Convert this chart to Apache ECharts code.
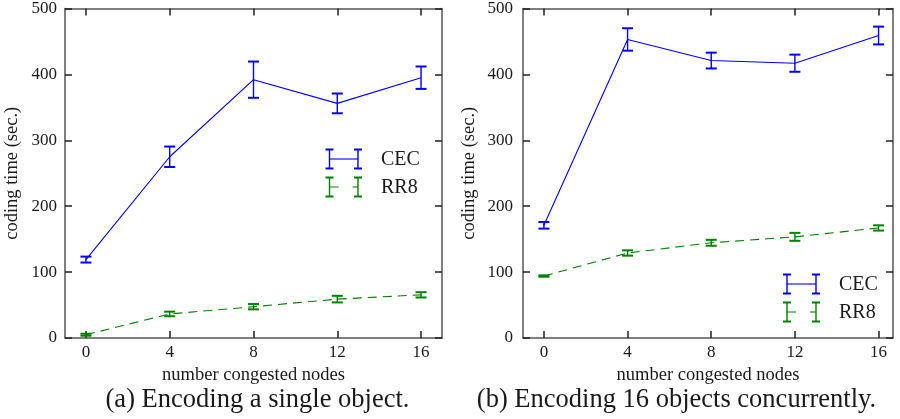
<!DOCTYPE html>
<html>
<head>
<meta charset="utf-8">
<script src="https://cdn.jsdelivr.net/npm/echarts@6/dist/echarts.min.js"></script>
<style>
  html, body { margin: 0; padding: 0; background: #fff; }
  #chart { width: 900px; height: 419px; }
</style>
</head>
<body>
<div id="chart"></div>
<script>
// Number of congested nodes (x positions) and their tick labels
const nodes = [0, 4, 8, 12, 16];
const xTickLabels = ['0', '4', '8', '12', '16'];

// (a) Encoding a single object: mean coding time and error half-width (sec.)
const cecSingle = [119, 275, 392, 356, 395];
const cecSingleErr = [4.5, 15.5, 27.5, 15, 17];
const rr8Single = [5, 36.5, 47.5, 59, 65.5];
const rr8SingleErr = [1.5, 3.5, 4, 5, 4];

// (b) Encoding 16 objects concurrently
const cecMulti = [171, 453, 421, 417, 459];
const cecMultiErr = [5, 17, 12, 13, 13.5];
const rr8Multi = [94, 129, 144.5, 153.5, 167];
const rr8MultiErr = [1, 4, 4.5, 6, 4];

const seriesNames = ['CEC', 'RR8'];
const captions = ['(a) Encoding a single object.', '(b) Encoding 16 objects concurrently.'];
const xTitle = 'number congested nodes';
const yTitle = 'coding time (sec.)';

const BLUE = '#0000ff';
const GREEN = '#008000';
const FONT = 'Liberation Serif';
const TEXT = '#1a1a1a';

function points(vals) { return nodes.map((x, i) => [x, vals[i]]); }
function ranges(vals, errs) { return nodes.map((x, i) => [x, vals[i] - errs[i], vals[i] + errs[i]]); }

function errorBars(color) {
  return function (params, api) {
    const x = api.value(0);
    const lo = api.coord([x, api.value(1)]);
    const hi = api.coord([x, api.value(2)]);
    const w = 5.5;
    const st = { stroke: color, lineWidth: 1.4 };
    const cap = { stroke: color, lineWidth: 2 };
    return {
      type: 'group',
      children: [
        { type: 'line', shape: { x1: lo[0], y1: lo[1], x2: hi[0], y2: hi[1] }, style: st },
        { type: 'line', shape: { x1: lo[0] - w, y1: lo[1], x2: lo[0] + w, y2: lo[1] }, style: cap },
        { type: 'line', shape: { x1: hi[0] - w, y1: hi[1], x2: hi[0] + w, y2: hi[1] }, style: cap }
      ]
    };
  };
}

const grids = [
  { left: 65, top: 8, width: 377, height: 330 },
  { left: 523, top: 8, width: 370, height: 330 }
];
const xMax = [17, 16.69];

const axisLine = { show: true, onZero: false, lineStyle: { color: '#555', width: 1.5 } };
const tickStyle = { color: '#222', width: 1.5 };

const xAxes = [];
const yAxes = [];
[0, 1].forEach(g => {
  // bottom axis with labels
  xAxes.push({
    type: 'value', gridIndex: g, min: -1, max: xMax[g], position: 'bottom',
    axisLine: axisLine,
    axisTick: { show: true, inside: true, length: 7, lineStyle: tickStyle, customValues: nodes },
    axisLabel: {
      show: true, margin: 6, fontFamily: FONT, fontSize: 17, color: TEXT,
      customValues: nodes, formatter: v => xTickLabels[nodes.indexOf(v)]
    },
    splitLine: { show: false },
    name: xTitle, nameLocation: 'middle', nameGap: 24,
    nameTextStyle: { fontFamily: FONT, fontSize: 18.5, color: TEXT }
  });
  // mirrored top axis
  xAxes.push({
    type: 'value', gridIndex: g, min: -1, max: xMax[g], position: 'top',
    axisLine: axisLine,
    axisTick: { show: true, inside: true, length: 7, lineStyle: tickStyle, customValues: nodes },
    axisLabel: { show: false },
    splitLine: { show: false }
  });
  yAxes.push({
    type: 'value', gridIndex: g, min: 0, max: 500, interval: 100, position: 'left',
    axisLine: axisLine,
    axisTick: { show: true, inside: true, length: 7, lineStyle: tickStyle },
    axisLabel: { show: true, margin: g === 0 ? 8 : 10, fontFamily: FONT, fontSize: 17, color: TEXT },
    splitLine: { show: false },
    name: yTitle, nameLocation: 'middle', nameGap: g === 0 ? 43 : 44, nameRotate: 90,
    nameTextStyle: { fontFamily: FONT, fontSize: 18.5, color: TEXT }
  });
  // mirrored right axis
  yAxes.push({
    type: 'value', gridIndex: g, min: 0, max: 500, interval: 100, position: 'right',
    axisLine: axisLine,
    axisTick: { show: true, inside: true, length: 7, lineStyle: tickStyle },
    axisLabel: { show: false },
    splitLine: { show: false }
  });
});

function lineSeries(name, g, data, color, dashed) {
  return {
    name: name, type: 'line', xAxisIndex: g * 2, yAxisIndex: g * 2,
    data: points(data), symbol: 'none', z: 2,
    lineStyle: { color: color, width: 1.1, type: dashed ? [9, 6] : 'solid' }
  };
}
function errSeries(name, g, data, errs, color) {
  return {
    name: name, type: 'custom', xAxisIndex: g * 2, yAxisIndex: g * 2,
    data: ranges(data, errs), renderItem: errorBars(color), z: 3,
    encode: { x: 0, y: [1, 2] }
  };
}

const series = [
  lineSeries('CEC', 0, cecSingle, BLUE, false),
  errSeries('CEC', 0, cecSingle, cecSingleErr, BLUE),
  lineSeries('RR8', 0, rr8Single, GREEN, true),
  errSeries('RR8', 0, rr8Single, rr8SingleErr, GREEN),
  lineSeries('CEC', 1, cecMulti, BLUE, false),
  errSeries('CEC', 1, cecMulti, cecMultiErr, BLUE),
  lineSeries('RR8', 1, rr8Multi, GREEN, true),
  errSeries('RR8', 1, rr8Multi, rr8MultiErr, GREEN)
];

// Legend keys: an error-bar glyph followed by the series name
function legendKey(x1, x2, y, color, dashed, label) {
  const h = 9.5, s = 4;
  const beam = x => [
    { type: 'line', shape: { x1: x, y1: y - h, x2: x, y2: y + h }, style: { stroke: color, lineWidth: 1.4 } },
    { type: 'line', shape: { x1: x - s, y1: y - h, x2: x + s, y2: y - h }, style: { stroke: color, lineWidth: 2 } },
    { type: 'line', shape: { x1: x - s, y1: y + h, x2: x + s, y2: y + h }, style: { stroke: color, lineWidth: 2 } }
  ];
  return [
    { type: 'line', shape: { x1: x1, y1: y, x2: x2, y2: y },
      style: { stroke: color, lineWidth: 1.1, lineDash: dashed ? [9, 14] : null } },
    ...beam(x1), ...beam(x2),
    { type: 'text', x: x2 + 23, y: y + 1, style: { text: label, fontFamily: FONT, fontSize: 20, fill: TEXT, verticalAlign: 'middle', align: 'left' } }
  ];
}

const graphic = [
  ...legendKey(329.5, 358, 159, BLUE, false, seriesNames[0]),
  ...legendKey(329.5, 358, 187, GREEN, true, seriesNames[1]),
  ...legendKey(787, 816, 284, BLUE, false, seriesNames[0]),
  ...legendKey(787, 816, 312, GREEN, true, seriesNames[1]),
  { type: 'text', x: 257.5, y: 400, style: { text: captions[0], fontFamily: FONT, fontSize: 26.5, fill: TEXT, align: 'center', verticalAlign: 'middle' } },
  { type: 'text', x: 676.5, y: 400, style: { text: captions[1], fontFamily: FONT, fontSize: 26.5, fill: TEXT, align: 'center', verticalAlign: 'middle' } }
];

const chart = echarts.init(document.getElementById('chart'), null, { renderer: 'canvas' });
chart.setOption({
  animation: false,
  backgroundColor: '#fff',
  grid: grids,
  xAxis: xAxes,
  yAxis: yAxes,
  series: series,
  graphic: graphic
});
</script>
</body>
</html>
